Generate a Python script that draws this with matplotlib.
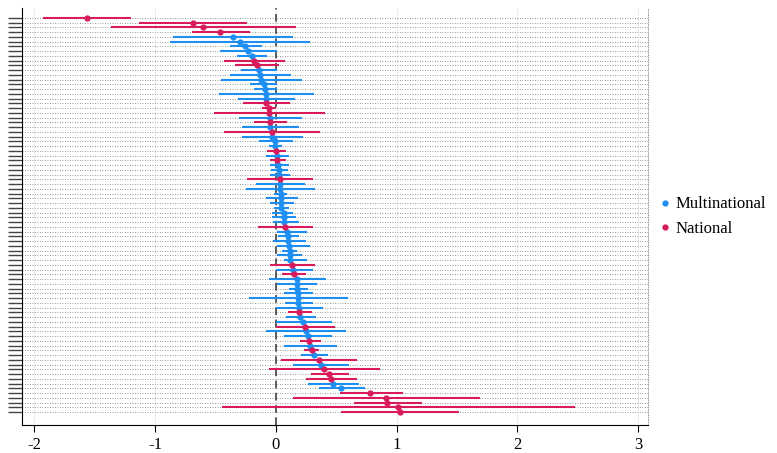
import matplotlib
matplotlib.use("Agg")
import matplotlib.pyplot as plt

# rows listed top to bottom; group: M = Multinational, N = National
group = list("NNNNMMMMMNNMMMMMMMNNNMNMNM"
             "MMNMNMMMNMMMMMMMMMNMMMMMMMNM"
             "NMMMMMMMNMMNMMNMNMNMNNNMMNNNNN")
est = [-1.565,-0.687,-0.60,-0.46,-0.357,-0.30,-0.252,-0.23,-0.20,-0.183,-0.155,-0.138,-0.133,-0.122,-0.10,-0.086,-0.083,-0.08,-0.078,-0.06,-0.055,-0.05,-0.05,-0.047,-0.033,-0.028,
       -0.008,-0.005,0.005,0.008,0.014,0.022,0.028,0.03,0.033,0.039,0.039,0.042,0.044,0.047,0.047,0.064,0.07,0.072,0.08,0.09,0.10,0.105,0.11,0.114,0.116,0.12,0.133,0.14,
       0.148,0.172,0.172,0.179,0.182,0.186,0.186,0.19,0.192,0.203,0.223,0.24,0.247,0.265,0.278,0.282,0.296,0.313,0.354,0.371,0.402,0.443,0.457,0.474,0.543,0.783,0.914,0.924,1.01,1.024]
lo = [-1.925,-1.13,-1.36,-0.695,-0.85,-0.875,-0.377,-0.465,-0.32,-0.432,-0.335,-0.285,-0.377,-0.45,-0.216,-0.183,-0.474,-0.316,-0.27,-0.114,-0.515,-0.307,-0.183,-0.283,-0.427,-0.283,
      -0.14,-0.06,-0.072,-0.08,-0.05,-0.05,-0.042,-0.05,-0.235,-0.16,-0.244,-0.017,-0.083,-0.05,-0.017,-0.028,-0.03,-0.022,-0.147,0.01,0.02,-0.025,0.01,0.053,0.01,0.066,-0.05,0.0,
      0.055,-0.058,0.014,0.107,0.072,-0.22,0.08,0.0,0.1,0.082,0.0,0.0,-0.08,0.072,0.2,0.072,0.237,0.21,0.04,0.144,-0.058,0.292,0.247,0.27,0.357,0.53,0.14,0.65,-0.443,0.536]
hi = [-1.20,-0.24,0.17,-0.215,0.144,0.285,-0.114,0.01,-0.072,0.075,0.028,0.01,0.122,0.216,0.01,0.01,0.316,0.163,0.12,0.0,0.41,0.216,0.094,0.194,0.366,0.227,
      0.14,0.053,0.088,0.108,0.088,0.11,0.10,0.116,0.31,0.244,0.327,0.094,0.18,0.15,0.11,0.144,0.17,0.19,0.31,0.26,0.196,0.25,0.28,0.177,0.22,0.255,0.327,0.306,
      0.247,0.416,0.34,0.27,0.31,0.6,0.31,0.39,0.296,0.33,0.464,0.488,0.58,0.467,0.375,0.505,0.36,0.433,0.674,0.605,0.866,0.608,0.674,0.69,0.74,1.05,1.69,1.21,2.48,1.52]
xticks = [-2, -1, 0, 1, 2, 3]

colors = {"M": "#1e8ff0", "N": "#d81b5a"}
labels = {"M": "Multinational", "N": "National"}
plt.rcParams['font.family'] = ['Liberation Serif', 'DejaVu Serif']

fig = plt.figure(figsize=(7.77, 4.53), dpi=100)
ax = fig.add_axes([22/777, 1-425/453, (648-22)/777, (425-8)/453])
n = len(est)
ys = list(range(n, 0, -1))
for g in ["M", "N"]:
    idx = [i for i in range(n) if group[i] == g]
    ax.hlines([ys[i] for i in idx], [lo[i] for i in idx], [hi[i] for i in idx],
              color=colors[g], lw=1.5, zorder=3)
    ax.plot([est[i] for i in idx], [ys[i] for i in idx], 'o', ms=3.5,
            color=colors[g], label=labels[g], zorder=4)
ax.axvline(0, color='#333333', ls=(0, (5, 3)), lw=1.1, zorder=2)
for y in ys:
    ax.axhline(y, color='#777777', ls=(0, (1, 2)), lw=0.6, zorder=1)
for x in xticks:
    ax.axvline(x, color='#bbbbbb', ls=(0, (1, 2)), lw=0.6, zorder=1)
ax.set_xlim(-2.1, 3.08)
ax.set_ylim(1 - 13/4.75, n + 10/4.75)
ax.set_xticks(xticks)
ax.set_xticklabels([str(x) for x in xticks], fontsize=12)
ax.set_yticks(ys)
ax.set_yticklabels([])
ax.tick_params(axis='y', length=10, width=1, color='#444444')
ax.tick_params(axis='x', length=5)
ax.spines['top'].set_visible(False)
ax.spines['right'].set_linestyle((0, (1, 2)))
ax.spines['right'].set_color('#888888')
ax.spines['right'].set_linewidth(0.6)
ax.legend(loc='center left', bbox_to_anchor=(0.99, 0.5), frameon=False,
          fontsize=12, handletextpad=0.1, markerscale=1.0, handlelength=1)
fig.savefig("out.png", dpi=100)
